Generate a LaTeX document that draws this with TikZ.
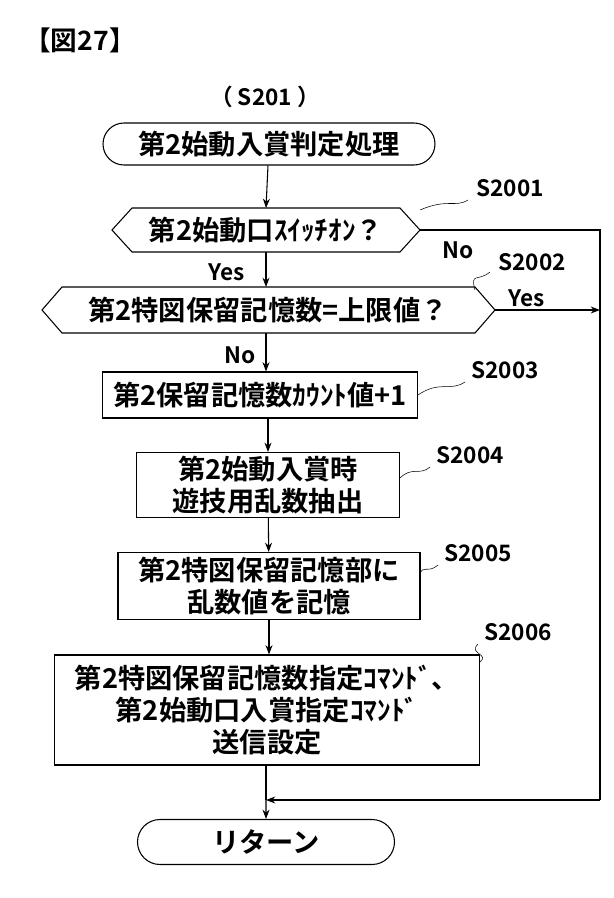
\documentclass[tikz,border=0pt]{standalone}
\usepackage{fontspec}
\setmainfont{Noto Sans CJK JP}[BoldFont={Noto Sans CJK JP Bold}]
\usetikzlibrary{shapes.misc,arrows.meta}
\tikzset{
  proc/.style={draw, thick, align=center, font=\bfseries\fontsize{20.5}{24}\selectfont, inner sep=0pt},
  term/.style={proc, rounded rectangle},
  lbl/.style={font=\bfseries\fontsize{17}{19}\selectfont},
  arr/.style={-{Stealth[length=7pt]}, thick},
  lead/.style={thin}
}
\newcommand{\hexa}[4]{% left x, right x, center y, half height
  \draw[thick] (#1,#3) -- (#1+20,#3-#4) -- (#2-20,#3-#4) -- (#2,#3) -- (#2-20,#3+#4) -- (#1+20,#3+#4) -- cycle;}
\begin{document}
\begin{tikzpicture}[x=0.0264cm, y=-0.0264cm]
  \useasboundingbox (0,0) rectangle (614,898);

  \node[lbl, font=\bfseries\fontsize{20}{22}\selectfont] (fig) at (80,40) {【図27】};
  \node[lbl] (s201) at (265,97) {（ S201 ）};

  \node[term, minimum width=332*0.0264cm, minimum height=42*0.0264cm] (start) at (269,144) {第2始動入賞判定処理};

  \hexa{112}{420}{230}{22}
  \node[proc, draw=none] (d1) at (266,230) {第2始動口ｽｲｯﾁｵﾝ？};
  \coordinate (d1r) at (420,230);
  \coordinate (d1t) at (266,208);
  \coordinate (d1b) at (266,252);

  \hexa{42}{495}{310}{23}
  \node[proc, draw=none] (d2) at (268,310) {第2特図保留記憶数=上限値？};
  \coordinate (d2r) at (495,310);
  \coordinate (d2t) at (266,287);
  \coordinate (d2b) at (266,333);

  \node[proc, minimum width=315*0.0264cm, minimum height=46*0.0264cm] (b3) at (260,395) {第2保留記憶数ｶｳﾝﾄ値+1};
  \node[proc, minimum width=263*0.0264cm, minimum height=65*0.0264cm] (b4) at (268,485) {第2始動入賞時\\遊技用乱数抽出};
  \node[proc, minimum width=302*0.0264cm, minimum height=67*0.0264cm] (b5) at (269,586) {第2特図保留記憶部に\\乱数値を記憶};
  \node[proc, minimum width=425*0.0264cm, minimum height=110*0.0264cm] (b6) at (267,710) {第2特図保留記憶数指定ｺﾏﾝﾄﾞ、\\第2始動口入賞指定ｺﾏﾝﾄﾞ\\送信設定};
  \node[term, minimum width=257*0.0264cm, minimum height=45*0.0264cm] (end) at (266,842) {リターン};

  \coordinate (rt) at (600,230);
  \coordinate (rm) at (600,310);
  \coordinate (rb) at (600,800);
  \coordinate (mg) at (266,800);

  % flow
  \draw[arr] (start) -- (d1t);
  \draw[arr] (d1b) -- (d2t);
  \draw[arr] (d2b) -- (d2b |- b3.north);
  \draw[arr] (b3.south -| b4) -- (b4);
  \draw[arr] (b4) -- (b5);
  \draw[arr] (b5) -- (b6.north -| b5);
  \draw[thick] (b6.south -| mg) -- (mg);
  \draw[arr] (mg) -- (end);
  \draw[thick] (d1r) -- (rt) -- (rb);
  \draw[arr] (d2r) -- (rm);
  \draw[arr] (rb) -- (mg);

  \node[lbl] (y1) at (227,272) {Yes};
  \node[lbl] (n1) at (458,250) {No};
  \node[lbl] (y2) at (527,298) {Yes};
  \node[lbl] (n2) at (240,355) {No};

  % step labels
  \node[lbl] (l1) at (510,188) {S2001};
  \node[lbl] (l2) at (532,262) {S2002};
  \node[lbl] (l3) at (505,370) {S2003};
  \node[lbl] (l4) at (470,455) {S2004};
  \node[lbl] (l5) at (478,553) {S2005};
  \node[lbl] (l6) at (518,632) {S2006};
  \draw[lead] (468,200) .. controls (455,208) and (448,198) .. (420,210);
  \draw[lead] (490,272) .. controls (478,282) and (470,272) .. (475,290);
  \draw[lead] (465,382) .. controls (450,392) and (440,380) .. (418,395);
  \draw[lead] (430,467) .. controls (420,476) and (412,466) .. (400,478);
  \draw[lead] (438,565) .. controls (428,574) and (422,564) .. (420,575);
  \draw[lead] (478,644) .. controls (468,654) and (490,654) .. (480,662);
\end{tikzpicture}
\end{document}
